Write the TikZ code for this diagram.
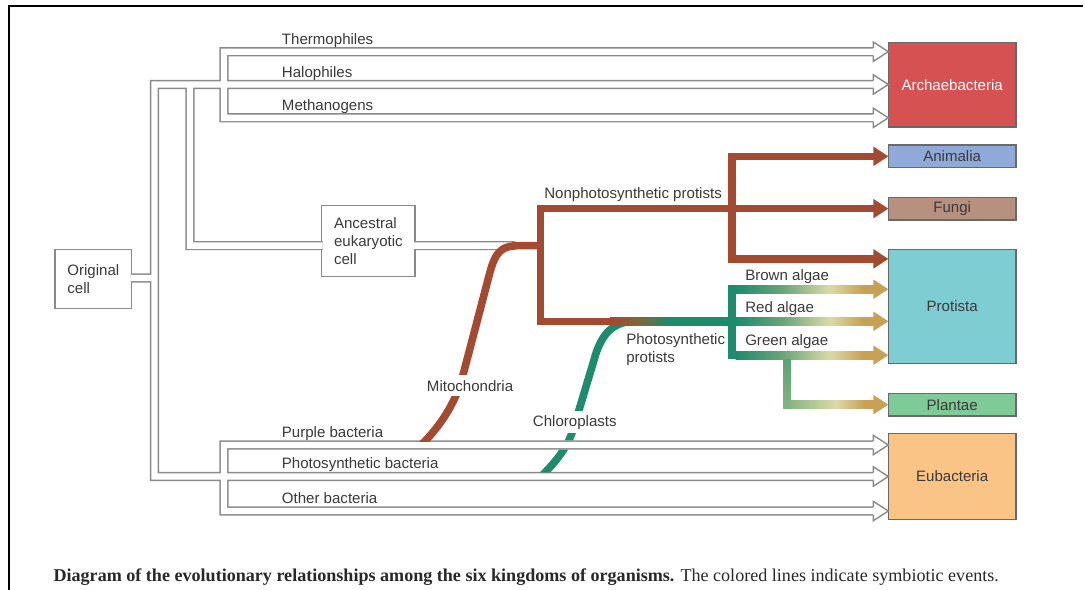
\documentclass[tikz,border=0pt]{standalone}
\usepackage{fontspec}
\setmainfont{Liberation Serif}
\setsansfont{Liberation Sans}
\usetikzlibrary{calc}

\definecolor{cgray}{RGB}{138,138,138}
\definecolor{cbord}{RGB}{105,105,105}
\definecolor{ctext}{RGB}{58,58,58}
\definecolor{ccap}{RGB}{40,40,40}
\definecolor{cteal}{RGB}{29,139,108}
\definecolor{cbrown}{RGB}{163,74,50}
\definecolor{cgold}{RGB}{200,160,86}
\definecolor{cpale}{RGB}{218,218,168}
\definecolor{calg}{RGB}{105,165,120}
\definecolor{cplg}{RGB}{128,180,128}
\definecolor{cpv}{RGB}{95,160,118}
\definecolor{colive}{RGB}{120,105,62}
\definecolor{carch}{RGB}{214,82,82}
\definecolor{canim}{RGB}{143,170,216}
\definecolor{cfungi}{RGB}{183,145,128}
\definecolor{cprot}{RGB}{126,205,211}
\definecolor{cplant}{RGB}{127,203,152}
\definecolor{ceub}{RGB}{249,196,134}

\pgfdeclarehorizontalshading{algaesh}{100bp}{color(0bp)=(cteal); color(25bp)=(cteal); color(42bp)=(calg); color(59bp)=(cpale); color(71bp)=(cgold); color(100bp)=(cgold)}
\pgfdeclarehorizontalshading{plantsh}{100bp}{color(0bp)=(cplg); color(27bp)=(cplg); color(54bp)=(cpale); color(70bp)=(cgold); color(100bp)=(cgold)}
\pgfdeclarehorizontalshading{photosh}{100bp}{color(0bp)=(cbrown); color(26bp)=(cbrown); color(38bp)=(colive); color(50bp)=(cteal); color(100bp)=(cteal)}

\newcommand{\lblfont}{\sffamily\fontsize{11.3}{13.4}\selectfont}
\newcommand{\harrow}[1]{%
  \fill[white] ($(#1)+(-15,-9.7)$) -- (#1) -- ($(#1)+(-15,9.7)$) -- cycle;
  \draw[draw=cgray, line width=1.05pt, line join=miter] ($(#1)+(-15,-3.9)$) -- ($(#1)+(-15,-9.7)$) -- (#1) -- ($(#1)+(-15,9.7)$) -- ($(#1)+(-15,3.9)$);
}
\newcommand{\farrow}[2]{%
  \fill[#2] (#1) -- ($(#1)+(-15,-9.8)$) -- ($(#1)+(-15,9.8)$) -- cycle;
}

\tikzset{
  lbl/.style={font=\lblfont, text=ctext, inner sep=0pt, anchor=base west},
  wbox/.style={draw=cgray, fill=white, line width=1pt, inner sep=0pt, outer sep=0pt, align=left, font=\lblfont, text=ctext, anchor=north west},
  kbox/.style={draw=cbord, line width=0.9pt, inner sep=0pt, outer sep=0pt, font=\lblfont, text=ctext, minimum width=95.8pt, anchor=north west},
  tube/.style={draw=white, line width=4.8pt, line join=miter,
    preaction={draw=cgray, line width=6.9pt, line join=miter}},
  brownline/.style={draw=cbrown, line width=5.7pt, line join=miter},
  tealline/.style={draw=cteal, line width=5.7pt},
}

\begin{document}
\begin{tikzpicture}[x=0.75pt,y=-0.75pt]
\useasboundingbox (0,0) rectangle (1085,589);
\fill[white] (0,0) rectangle (1085,589);

% frame
\draw[line width=1.5pt, line join=miter] (9,590) -- (9,5.7) -- (1083,5.7);

% boxes
\node[wbox, minimum width=57.5pt, minimum height=44.25pt] (oc) at (55,249.3) {Original\\cell};
\node[wbox, minimum width=70pt, minimum height=53.25pt] (anc) at (321.7,205.7) {Ancestral\\eukaryotic\\cell};

\node[kbox, fill=carch, text=white, minimum height=63.5pt] (arch) at (888.3,42.3) {Archaebacteria};
\node[kbox, fill=canim, minimum height=17pt] (anim) at (888.3,145) {Animalia};
\node[kbox, fill=cfungi, minimum height=17pt] (fungi) at (888.3,197.3) {Fungi};
\node[kbox, fill=cprot, minimum height=85.5pt] (prot) at (888.3,249.3) {Protista};
\node[kbox, fill=cplant, minimum height=17pt] (plant) at (888.3,393.3) {Plantae};
\node[kbox, fill=ceub, minimum height=64.5pt] (eub) at (888.3,433.3) {Eubacteria};

% arrow tips
\coordinate (tT) at ($(arch.north west)+(0,9.4)$);
\coordinate (tH) at ($(arch.north west)+(0,42.2)$);
\coordinate (tM) at ($(arch.north west)+(0,75.5)$);
\coordinate (tPu) at ($(eub.north west)+(0,11.7)$);
\coordinate (tPh) at ($(eub.north west)+(0,43.2)$);
\coordinate (tO) at ($(eub.north west)+(0,77.7)$);
\coordinate (tA) at (anim.west);
\coordinate (tF) at (fungi.west);
\coordinate (tPr) at ($(prot.north west)+(0,9.6)$);
\coordinate (tBr) at ($(prot.north west)+(0,39.9)$);
\coordinate (tRe) at ($(prot.north west)+(0,72)$);
\coordinate (tGr) at ($(prot.north west)+(0,105.9)$);
\coordinate (tPl) at (plant.west);
\foreach \t in {tT,tH,tM,tPu,tPh,tO}{\coordinate (\t b) at ($(\t)+(-15,0)$);}
\foreach \t in {tA,tF,tPr}{\coordinate (\t b) at ($(\t)+(-14,0)$);}

% hollow tube network
\draw[tube]
  ($(oc.east)+(-0.8,-0.8)$) -- (154.5,278)
  (tHb) -- (154.5,84.5) -- (154.5,476.5) -- (tPhb)
  (tTb) -- (224,51.7) -- (224,117.8) -- (tMb)
  (190,84.5) -- (190,245.6) -- ($(anc.west)+(0.8,4.4)$)
  (tPub) -- (224,445) -- (224,511) -- (tOb)
  ($(anc.east)+(-0.8,4.4)$) -- (515,245.6);
\foreach \t in {tT,tH,tM,tPu,tPh,tO}{\harrow{\t}}

% symbiotic curves
\begin{scope}
  \clip (0,0) rectangle (1085,441);
  \draw[brownline] (414,452) .. controls (440,428) and (455.5,403.5) .. (463,375)
    -- (490,272) .. controls (496,250) and (503,245.6) .. (520,245.6) -- (541,245.6);
\end{scope}
\begin{scope}
  % the chloroplast line runs under the purple-bacteria tube
  \clip (0,0) rectangle (1085,440.4) (0,449.6) rectangle (1085,472.3);
  \draw[tealline] (534,483) .. controls (556,463) and (567.5,447) .. (573,430)
    -- (594,360) .. controls (600,338) and (610,321.3) .. (635,321.3);
\end{scope}

\node[lbl, fill=white, inner ysep=4pt] (lMi) at (426.7,391) {Mitochondria};
\node[lbl, fill=white, inner ysep=3pt] (lC) at (532.7,426) {Chloroplasts};

% brown tree
\coordinate (kx) at (732.2,0);
\coordinate (mx) at (540.5,0);
\coordinate (ph) at (612,321.3);
\draw[brownline] (tAb) -- (tA -| kx) -- (tPr -| kx) -- (tPrb);
\draw[brownline] (tFb) -- (tF -| mx) -- (mx |- ph) -- (ph);
\farrow{tA}{cbrown}
\farrow{tF}{cbrown}
\farrow{tPr}{cbrown}

% photosynthetic branch
\shade[shading=photosh] (610,317.5) rectangle (729,325.1);
\fill[cteal] (728.4,285.2) rectangle (736,359.2);
\shade[shading=algaesh] (735.5,285.2) rectangle (874,293.2);
\shade[shading=algaesh] (735.5,317.3) rectangle (874,325.3);
\shade[shading=algaesh] (735.5,351.2) rectangle (874,359.2);
\shade[top color=cpv, bottom color=cplg] (783.3,359) rectangle (791,408.65);
\shade[shading=plantsh] (783.3,400.65) rectangle (874,408.65);
\farrow{tBr}{cgold}
\farrow{tRe}{cgold}
\farrow{tGr}{cgold}
\farrow{tPl}{cgold}

% labels
\node[lbl] (lT) at (281.7,44) {Thermophiles};
\node[lbl] (lH) at (281.7,77) {Halophiles};
\node[lbl] (lMe) at (281.7,110.3) {Methanogens};
\node[lbl] (lPu) at (281.6,437) {Purple bacteria};
\node[lbl] (lPh) at (281.6,468.7) {Photosynthetic bacteria};
\node[lbl] (lO) at (281.6,503) {Other bacteria};
\node[lbl] (lN) at (544,198) {Nonphotosynthetic protists};
\node[lbl] (lB) at (745,280.5) {Brown algae};
\node[lbl] (lR) at (745,312) {Red algae};
\node[lbl] (lG) at (745,345.5) {Green algae};
\node[lbl, anchor=west, align=left] (lPp) at (626,349.3) {Photosynthetic\\protists};

% caption
\node[anchor=base west, inner sep=0pt, text=ccap, font=\fontsize{13.56}{16}\selectfont] (cap) at (53.3,581.5)
  {\textbf{Diagram of the evolutionary relationships among the six kingdoms of organisms.} The colored lines indicate symbiotic events.};
\end{tikzpicture}
\end{document}
